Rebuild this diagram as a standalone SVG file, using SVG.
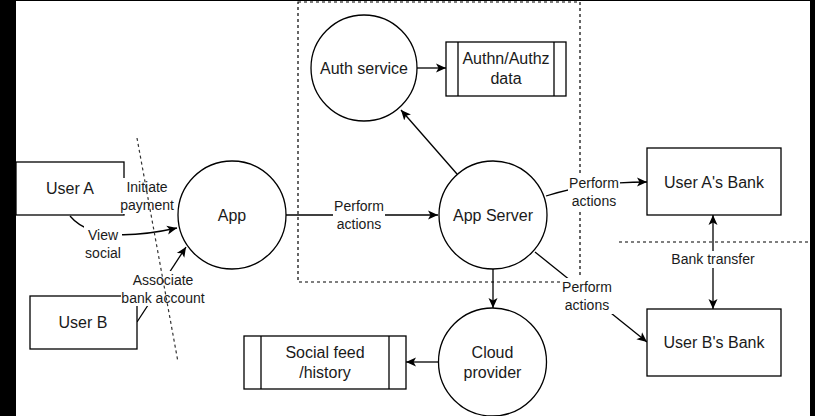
<svg xmlns="http://www.w3.org/2000/svg" width="815" height="416" viewBox="0 0 815 416">
<defs>
<style>
.n{fill:#fff;stroke:#000;stroke-width:1.3}
.t{font-family:"Liberation Sans",Arial,sans-serif;font-size:16px;fill:#1a1a1a;text-anchor:middle}
.l{font-family:"Liberation Sans",Arial,sans-serif;font-size:14px;fill:#1a1a1a;text-anchor:middle}
.e{fill:none;stroke:#000;stroke-width:1.3}
.a{marker-end:url(#arr)}
.bg{fill:#fff;stroke:none}
.dash{fill:none;stroke:#000;stroke-width:1.2;stroke-dasharray:3 3}
</style>
<marker id="arr" viewBox="0 0 10 10" refX="10" refY="5" markerWidth="10" markerHeight="10" markerUnits="userSpaceOnUse" orient="auto-start-reverse">
<path d="M0,0.5 L10,5 L0,9.5 L2.5,5 Z" fill="#000"/>
</marker>
</defs>
<rect x="0" y="0" width="815" height="416" fill="#000"/>
<rect x="16" y="1" width="794" height="415" fill="#fff"/>

<g id="trust-boundary">
<rect class="dash" x="298" y="2" width="282" height="280"/>
<line class="dash" x1="619" y1="242" x2="810" y2="242"/>
</g>

<g id="connectors">
<path class="e a" d="M124,197 L176,199"/>
<path class="e a" d="M70,216 Q95,246 177,228"/>
<path class="e a" d="M137,322 L186,247"/>
<path class="e a" d="M286,215 L438,215"/>
<path class="e a" d="M457,174 L401,110"/>
<path class="e a" d="M417,68 L446,68"/>
<path class="e a" d="M493,269 L493,308"/>
<path class="e a" d="M438,362 L406,362"/>
<path class="e a" d="M546,196 Q590,182 647,182"/>
<path class="e a" d="M535,252 L647,342"/>
<path class="e a" style="marker-start:url(#arr)" d="M713,215 L713,309"/>
</g>

<g id="user-a">
<rect class="n" x="16" y="162" width="108" height="53"/>
<text class="t" x="70" y="194">User A</text>
</g>
<g id="user-b">
<rect class="n" x="30" y="296" width="107" height="53"/>
<text class="t" x="83" y="328">User B</text>
</g>
<g id="app">
<circle class="n" cx="232" cy="215" r="54"/>
<text class="t" x="232" y="221">App</text>
</g>
<g id="auth-service">
<circle class="n" cx="364" cy="68" r="53"/>
<text class="t" x="364" y="74">Auth service</text>
</g>
<g id="authn-data">
<rect class="n" x="446" y="42" width="120" height="54"/>
<line class="e" x1="458" y1="42" x2="458" y2="96"/>
<line class="e" x1="554" y1="42" x2="554" y2="96"/>
<text class="t" x="506" y="64">Authn/Authz</text>
<text class="t" x="506" y="84">data</text>
</g>
<g id="app-server">
<circle class="n" cx="493" cy="215" r="54"/>
<text class="t" x="493" y="221">App Server</text>
</g>
<g id="cloud-provider">
<circle class="n" cx="492.5" cy="362" r="54"/>
<text class="t" x="492.5" y="358">Cloud</text>
<text class="t" x="492.5" y="378">provider</text>
</g>
<g id="social-feed">
<rect class="n" x="244" y="336" width="162" height="53"/>
<line class="e" x1="261" y1="336" x2="261" y2="389"/>
<line class="e" x1="389" y1="336" x2="389" y2="389"/>
<text class="t" x="325" y="358">Social feed</text>
<text class="t" x="325" y="378">/history</text>
</g>
<g id="user-a-bank">
<rect class="n" x="647" y="148" width="134" height="67"/>
<text class="t" x="714" y="188">User A's Bank</text>
</g>
<g id="user-b-bank">
<rect class="n" x="647" y="309" width="134" height="67"/>
<text class="t" x="714" y="348">User B's Bank</text>
</g>

<g id="connector-labels">
<rect class="bg" x="119" y="178" width="57" height="36"/>
<text class="l" x="147" y="192">Initiate</text>
<text class="l" x="147" y="210">payment</text>
<rect class="bg" x="84" y="226" width="38" height="35"/>
<text class="l" x="103" y="240">View</text>
<text class="l" x="103" y="258">social</text>
<rect class="bg" x="121" y="271" width="84" height="35"/>
<text class="l" x="163" y="285">Associate</text>
<text class="l" x="163" y="303">bank account</text>
<rect class="bg" x="333" y="197" width="52" height="35"/>
<text class="l" x="359" y="211">Perform</text>
<text class="l" x="359" y="229">actions</text>
<rect class="bg" x="568" y="174" width="52" height="36"/>
<text class="l" x="594" y="188">Perform</text>
<text class="l" x="594" y="206">actions</text>
<rect class="bg" x="561" y="278" width="52" height="36"/>
<text class="l" x="587" y="292">Perform</text>
<text class="l" x="587" y="310">actions</text>
<rect class="bg" x="671" y="251" width="84" height="17"/>
<text class="l" x="713" y="264">Bank transfer</text>
</g>

<line id="user-boundary" x1="137" y1="138" x2="178" y2="362" stroke="#333" stroke-width="1.2" stroke-dasharray="3 3"/>
</svg>
